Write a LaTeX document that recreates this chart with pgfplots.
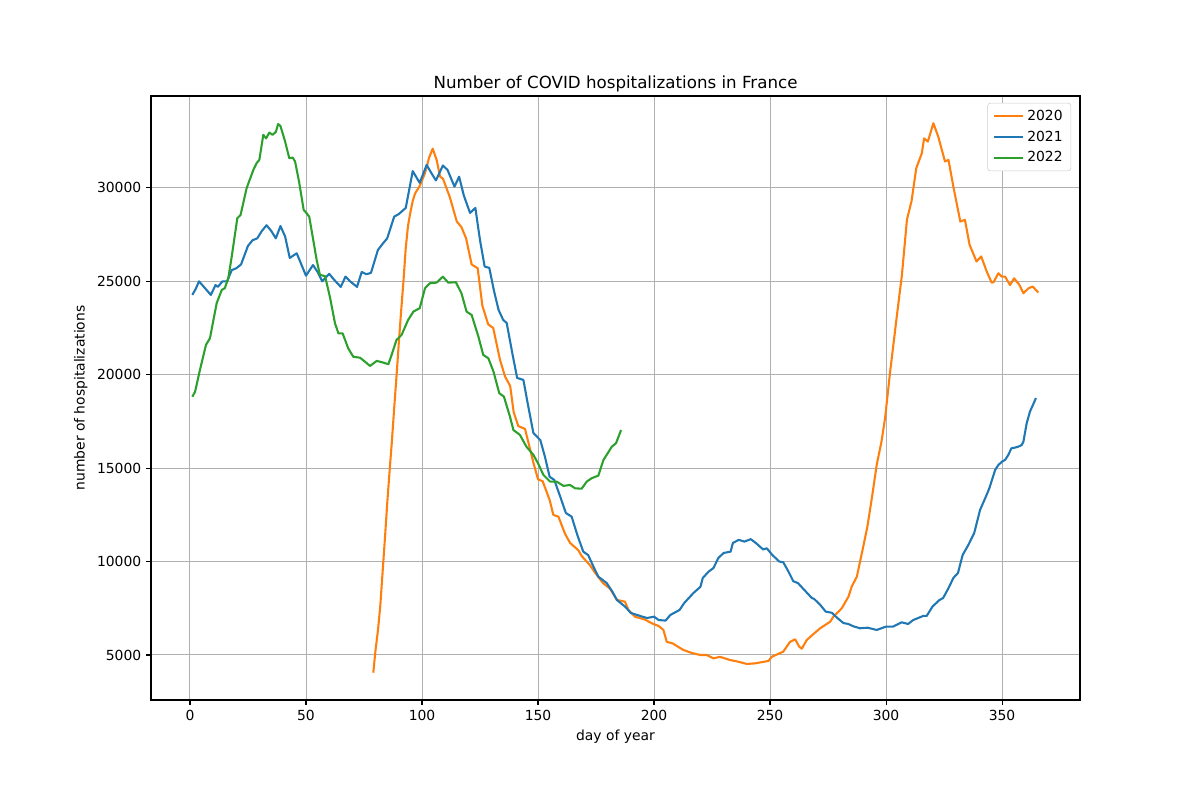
\documentclass[border=0pt]{standalone}
\usepackage{pgfplots}
\pgfplotsset{compat=1.18}
\usepackage{fontspec}
\setmainfont{DejaVu Sans}
\definecolor{cA}{HTML}{FF7F0E}
\definecolor{cB}{HTML}{1F77B4}
\definecolor{cC}{HTML}{2CA02C}
\begin{document}
\begin{tikzpicture}
\path[use as bounding box] (-108.72pt,-72pt) rectangle (755.28pt,504pt);
\begin{axis}[
  at={(0pt,0pt)}, anchor=south west,
  scale only axis, width=668.9pt, height=434.9pt,
  xmin=-16.8, xmax=383.6, ymin=2590, ymax=34920,
  xtick={0,50,...,350}, ytick={5000,10000,...,30000},
  scaled y ticks=false, scaled x ticks=false,
  yticklabel style={/pgf/number format/fixed, /pgf/number format/precision=0},
  /pgf/number format/1000 sep={},
  /pgf/number format/assume math mode=true,
  tick label style={font=\fontsize{10}{12}\selectfont, black},
  label style={font=\fontsize{10}{12}\selectfont},
  title style={font=\fontsize{12}{14}\selectfont, yshift=-7pt},
  title={Number of COVID hospitalizations in France},
  xlabel={day of year}, ylabel={number of hospitalizations},
  grid=major, major grid style={color=black!31, line width=0.7pt},
  axis line style={line width=0.8pt},
  tick align=outside, major tick length=3.5pt,
  tick style={black, line width=0.8pt},
  xtick pos=bottom, ytick pos=left,
  legend style={at={(0.9905,0.9885)}, anchor=north east, draw=black!20, rounded corners=2pt, font=\fontsize{10}{12}\selectfont, row sep=2pt, inner xsep=4pt, inner ysep=3pt},
  legend cell align=left,
  legend image code/.code={\draw[#1] (0pt,0pt) -- (21pt,0pt);},
  every axis plot/.append style={line width=1.5pt, line join=round, no markers},
]
\addplot[cA] coordinates {
(79,4050)(80,5300)(81,6300)(82,7600)(83,9400)(84,11200)(85,13100)(86,14800)(87,16400)(88,18200)(89,19900)(90,21700)(91,23400)(92,25000)(93,26800)(94,28000)(95,28700)(96,29300)(97,29700)(99,30100)(101,30700)(102,31100)(103,31600)(104.6,32100)(106.3,31500)(107.8,30600)(109,30500)(112,29500)(115,28200)(117,27900)(119,27300)(121.4,25900)(124,25700)(126,23700)(128.5,22700)(130.7,22500)(133.6,20800)(135.8,19900)(138,19400)(139.5,18000)(141.5,17250)(144.4,17100)(148,15300)(150,14400)(152,14300)(155,13300)(156.6,12500)(158.8,12400)(161.6,11500)(163.8,11000)(167.4,10600)(168.8,10300)(172.4,9800)(174.6,9400)(178,8850)(181,8550)(184,7950)(187.5,7850)(189,7400)(191.8,7050)(196,6900)(199,6700)(202,6550)(204,6350)(205.5,5700)(208,5620)(212.6,5270)(216,5120)(219.8,5000)(222.7,5000)(225.6,4820)(228.4,4900)(232.8,4730)(236.3,4640)(240,4520)(243.5,4550)(249.3,4680)(250.7,4900)(255.7,5180)(258.6,5700)(260.8,5840)(262.6,5440)(263.7,5340)(265.8,5800)(268.7,6120)(271.6,6430)(275.9,6780)(277.3,7050)(280.9,7500)(283.8,8120)(285.2,8660)(287.4,9190)(290,10700)(292,11900)(294,13500)(296,15200)(298,16400)(299.6,17700)(301.7,20100)(304.6,23100)(306.8,25300)(309,28300)(311,29300)(313,31050)(315.4,31850)(316.4,32650)(318,32480)(320.4,33460)(322.5,32740)(325.4,31410)(326.9,31500)(329,30070)(332,28200)(334,28290)(336,26950)(339,26060)(341,26330)(343.4,25520)(345.5,24930)(346.3,24950)(348.4,25430)(349.9,25250)(351.3,25250)(353.4,24800)(355.2,25160)(357.5,24800)(359.2,24360)(361.4,24630)(363.2,24720)(365.6,24400)
};
\addlegendentry{2020}
\addplot[cB] coordinates {
(1,24270)(2.5,24600)(3.9,25000)(6,24700)(9,24270)(11,24800)(12,24700)(14,25000)(16,25000)(18,25600)(20,25700)(22,25900)(25,26900)(27,27200)(29,27300)(31,27700)(33,28000)(35,27700)(37,27300)(39,27960)(41,27400)(43,26250)(46,26500)(48,25900)(50,25300)(53,25870)(55,25500)(57,25000)(60,25400)(62,25100)(65,24700)(67,25250)(69,25000)(72,24700)(74,25500)(76,25380)(78,25450)(81,26680)(83,27000)(85,27300)(88,28460)(90,28600)(93,28930)(96,30900)(99,30270)(102,31230)(104,30800)(106,30400)(109,31200)(111,30960)(114,30070)(116,30600)(118,29600)(120.7,28660)(123,28930)(125,27200)(127,25790)(129,25720)(131,24500)(133,23470)(135,22930)(136.5,22770)(139,21100)(141,19830)(143.7,19720)(145.5,18500)(148,16880)(151,16500)(153,15600)(155,14540)(157,14370)(159.5,13500)(162,12600)(164.5,12400)(167,11400)(169.5,10530)(171.6,10350)(174,9700)(176,9190)(179.6,8850)(182,8400)(184,7940)(187.5,7590)(190,7250)(192.5,7150)(195,7050)(197,6980)(200,7050)(202,6870)(205,6840)(207,7140)(211,7410)(213,7780)(217,8320)(220,8650)(221,9120)(223.5,9460)(225.6,9650)(227.7,10190)(230,10460)(233,10530)(234,11000)(236.5,11160)(239,11070)(241.7,11200)(244,10980)(247,10650)(248.6,10710)(251,10350)(254,10000)(255.7,9960)(258,9450)(260,8950)(262,8850)(265,8450)(268,8050)(269,8000)(271.5,7700)(274,7320)(276.6,7260)(279,6980)(281.6,6710)(283.7,6660)(286,6530)(288.8,6430)(292,6460)(296,6340)(300,6520)(303,6520)(306.7,6750)(309.5,6660)(311.7,6870)(316,7090)(317.5,7090)(320,7590)(323,7940)(324.6,8050)(327,8600)(329,9120)(331,9390)(333,10350)(335.5,10900)(338,11530)(340.5,12760)(343,13470)(344.5,13920)(347,14900)(348.4,15170)(350,15350)(351.3,15440)(352.7,15710)(354,16060)(355.6,16100)(357,16150)(358.5,16240)(359.2,16420)(360.6,17400)(362,18020)(364.6,18750)
};
\addlegendentry{2021}
\addplot[cC] coordinates {
(1,18820)(2.2,19090)(4.3,20260)(6.9,21600)(8.6,21950)(11.5,23830)(13.7,24540)(15,24630)(16.5,25160)(18,26330)(20.4,28380)(21.8,28550)(24.4,29980)(27.3,30960)(28.7,31320)(29.9,31500)(31.6,32840)(32.8,32650)(34.2,32960)(35.6,32840)(37,33000)(38,33420)(39,33310)(41,32480)(42.8,31590)(44.3,31620)(45.3,31410)(47,30340)(49,28820)(50.3,28640)(51.4,28460)(53,27300)(54.6,26140)(56,25340)(58.2,25280)(60.3,24170)(62.5,22750)(64,22210)(65.8,22210)(68.2,21410)(70.4,20960)(73.3,20910)(75.4,20700)(77.6,20470)(80.5,20740)(83.3,20650)(85.5,20560)(86.9,21060)(89,21860)(91.2,22130)(94,22930)(96.3,23380)(99,23560)(101.3,24630)(103.4,24900)(106.3,24930)(109,25250)(111.3,24930)(114.6,24950)(117,24360)(119.2,23380)(121.4,23200)(124.3,22040)(126.4,21060)(128.6,20880)(130.8,20170)(133.3,19010)(135.3,18830)(137.9,17760)(139.4,17040)(142.2,16780)(145,16150)(148,15710)(150,15260)(152.3,14640)(155.2,14280)(158,14280)(161,14050)(163.8,14100)(166,13920)(168.8,13900)(171,14280)(173.1,14460)(176,14600)(178.2,15440)(179.6,15710)(181.8,16150)(183.6,16330)(185.8,17040)
};
\addlegendentry{2022}
\end{axis}
\end{tikzpicture}
\end{document}
